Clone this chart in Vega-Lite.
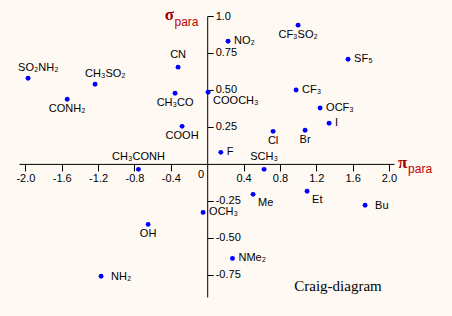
{
  "$schema": "https://vega.github.io/schema/vega-lite/v6.json",
  "width": 375,
  "height": 281,
  "autosize": "none",
  "padding": {"left": 19, "top": 16, "right": 58, "bottom": 19},
  "background": "#fff9f4",
  "config": {
    "view": {"stroke": null},
    "axis": {
      "grid": false,
      "domainColor": "#000000",
      "tickColor": "#000000",
      "labelColor": "#000000",
      "labelFont": "Liberation Sans",
      "labelFontSize": 11,
      "labelFlush": false,
      "labelOverlap": false,
      "title": null
    }
  },
  "data": {
    "values": [
      {"x": -1.97, "y": 0.579, "label": "SO₂NH₂", "pos": "aboveleft"},
      {"x": -1.54, "y": 0.437, "label": "CONH₂", "pos": "below"},
      {"x": -1.233, "y": 0.539, "label": "CH₃SO₂", "pos": "aboveleft"},
      {"x": -0.32, "y": 0.654, "label": "CN", "pos": "above"},
      {"x": -0.353, "y": 0.478, "label": "CH₃CO", "pos": "below"},
      {"x": 0.01, "y": 0.484, "label": "COOCH₃", "pos": "belowright"},
      {"x": -0.276, "y": 0.254, "label": "COOH", "pos": "below"},
      {"x": 0.15, "y": 0.078, "label": "F", "pos": "right"},
      {"x": -0.756, "y": -0.037, "label": "CH₃CONH", "pos": "above"},
      {"x": 0.23, "y": 0.829, "label": "NO₂", "pos": "right"},
      {"x": 1.0, "y": 0.938, "label": "CF₃SO₂", "pos": "below"},
      {"x": 1.55, "y": 0.708, "label": "SF₅", "pos": "right"},
      {"x": 0.978, "y": 0.5, "label": "CF₃", "pos": "right"},
      {"x": 1.242, "y": 0.378, "label": "OCF₃", "pos": "right"},
      {"x": 1.341, "y": 0.275, "label": "I", "pos": "right"},
      {"x": 0.725, "y": 0.22, "label": "Cl", "pos": "below"},
      {"x": 1.077, "y": 0.227, "label": "Br", "pos": "below"},
      {"x": 0.626, "y": -0.037, "label": "SCH₃", "pos": "above"},
      {"x": 0.505, "y": -0.206, "label": "Me", "pos": "belowright"},
      {"x": 1.099, "y": -0.185, "label": "Et", "pos": "belowright"},
      {"x": 1.737, "y": -0.28, "label": "Bu", "pos": "farright"},
      {"x": 0.278, "y": -0.639, "label": "NMe₂", "pos": "right"},
      {"x": -0.045, "y": -0.328, "label": "OCH₃", "pos": "right"},
      {"x": -0.65, "y": -0.409, "label": "OH", "pos": "below"},
      {"x": -1.167, "y": -0.76, "label": "NH₂", "pos": "farright"}
    ]
  },
  "encoding": {
    "x": {
      "field": "x", "type": "quantitative",
      "scale": {"domain": [-2.07, 2.055], "nice": false, "zero": false},
      "axis": {
        "orient": "bottom", "offset": -133.1, "tickSize": 7, "labelPadding": 2,
        "values": [-2, -1.6, -1.2, -0.8, -0.4, 0.4, 0.8, 1.2, 1.6, 2.0],
        "labelExpr": "(datum.value < 0 ? '-' : '') + format(abs(datum.value), '.1f')"
      }
    },
    "y": {
      "field": "y", "type": "quantitative",
      "scale": {"domain": [-0.9, 1.0], "nice": false, "zero": false},
      "axis": {
        "orient": "right", "offset": -186.8, "tickSize": 6, "labelPadding": 2,
        "values": [1.0, 0.75, 0.5, 0.25, -0.25, -0.5, -0.75],
        "labelExpr": "datum.value == 1 ? '1.0' : (datum.value < 0 ? '-' : '') + format(abs(datum.value), '.2f')"
      }
    }
  },
  "layer": [
    {
      "mark": {"type": "point", "filled": true, "size": 24, "color": "#0000ff", "opacity": 1, "strokeWidth": 0}
    },
    {
      "transform": [{"filter": "datum.pos == 'above'"}],
      "mark": {"type": "text", "align": "center", "baseline": "middle", "dy": -12, "font": "Liberation Sans", "fontSize": 11, "color": "#000000"},
      "encoding": {"text": {"field": "label"}}
    },
    {
      "transform": [{"filter": "datum.pos == 'aboveleft'"}],
      "mark": {"type": "text", "align": "left", "baseline": "middle", "dx": -10, "dy": -10, "font": "Liberation Sans", "fontSize": 11, "color": "#000000"},
      "encoding": {"text": {"field": "label"}}
    },
    {
      "transform": [{"filter": "datum.pos == 'below'"}],
      "mark": {"type": "text", "align": "center", "baseline": "middle", "dy": 10, "font": "Liberation Sans", "fontSize": 11, "color": "#000000"},
      "encoding": {"text": {"field": "label"}}
    },
    {
      "transform": [{"filter": "datum.pos == 'belowright'"}],
      "mark": {"type": "text", "align": "left", "baseline": "middle", "dx": 5, "dy": 9, "font": "Liberation Sans", "fontSize": 11, "color": "#000000"},
      "encoding": {"text": {"field": "label"}}
    },
    {
      "transform": [{"filter": "datum.pos == 'right'"}],
      "mark": {"type": "text", "align": "left", "baseline": "middle", "dx": 6, "font": "Liberation Sans", "fontSize": 11, "color": "#000000"},
      "encoding": {"text": {"field": "label"}}
    },
    {
      "transform": [{"filter": "datum.pos == 'farright'"}],
      "mark": {"type": "text", "align": "left", "baseline": "middle", "dx": 10, "dy": 1, "font": "Liberation Sans", "fontSize": 11, "color": "#000000"},
      "encoding": {"text": {"field": "label"}}
    },
    {
      "data": {"values": [{"x": 0, "y": 0, "text": "0"}]},
      "mark": {"type": "text", "align": "center", "baseline": "middle", "dx": -6, "dy": 11, "font": "Liberation Sans", "fontSize": 11, "color": "#000000"},
      "encoding": {"text": {"field": "text"}}
    },
    {
      "data": {"values": [{"x": -0.365, "y": 1.0, "text": "σ"}, {"x": 2.201, "y": 0, "text": "π"}]},
      "mark": {"type": "text", "align": "right", "baseline": "alphabetic", "dy": 4, "font": "Liberation Serif", "fontWeight": "bold", "fontSize": 17, "color": "#a00000"},
      "encoding": {"text": {"field": "text"}}
    },
    {
      "data": {"values": [{"x": -0.36, "y": 1.0, "text": "para"}, {"x": 2.21, "y": 0, "text": "para"}]},
      "mark": {"type": "text", "align": "left", "baseline": "alphabetic", "dy": 9.5, "font": "Liberation Sans", "fontSize": 12, "color": "#c00000"},
      "encoding": {"text": {"field": "text"}}
    },
    {
      "data": {"values": [{"x": 1.439, "y": -0.829, "text": "Craig-diagram"}]},
      "mark": {"type": "text", "align": "center", "baseline": "middle", "font": "Liberation Serif", "fontSize": 15, "color": "#000000"},
      "encoding": {"text": {"field": "text"}}
    }
  ]
}
